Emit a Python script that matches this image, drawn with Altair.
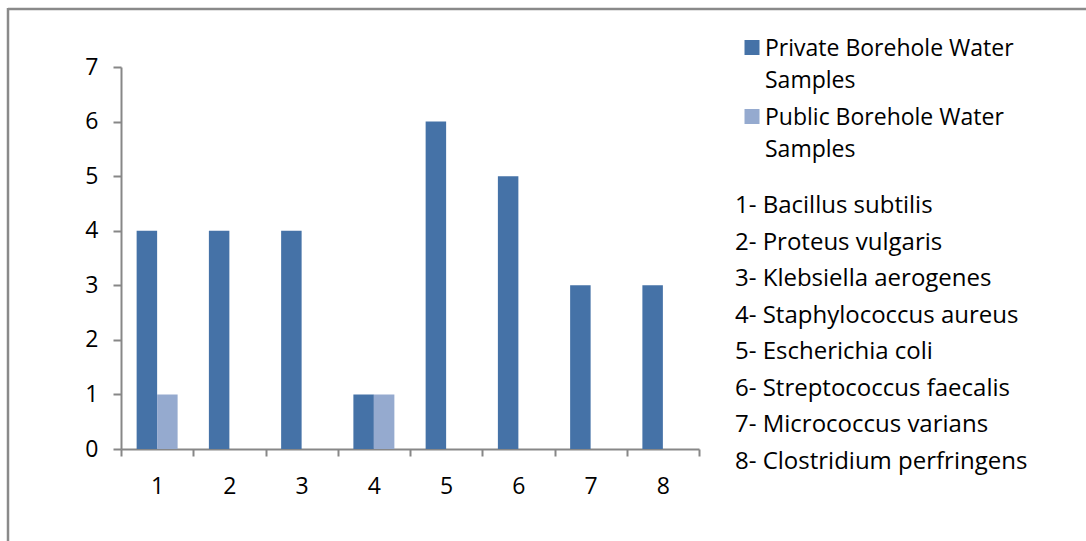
import altair as alt
import pandas as pd

categories = ["1", "2", "3", "4", "5", "6", "7", "8"]
series_names = ["Private Borehole Water Samples", "Public Borehole Water Samples"]
private_vals = [4, 4, 4, 1, 6, 5, 3, 3]
public_vals = [1, 0, 0, 1, 0, 0, 0, 0]
species = [
    "1- Bacillus subtilis",
    "2- Proteus vulgaris",
    "3- Klebsiella aerogenes",
    "4- Staphylococcus aureus",
    "5- Escherichia coli",
    "6- Streptococcus faecalis",
    "7- Micrococcus varians",
    "8- Clostridium perfringens",
]
legend_lines = [["Private Borehole Water", "Samples"], ["Public Borehole Water", "Samples"]]
colors = ["#4572A7", "#95AACF"]

FONT = "Open Sans"
FS = 23
GRAY = "#878787"

rows = []
for c, pv, qv in zip(categories, private_vals, public_vals):
    rows.append({"cat": c, "series": series_names[0], "value": pv})
    rows.append({"cat": c, "series": series_names[1], "value": qv})
bars_df = pd.DataFrame(rows)

color = alt.Color("series:N", sort=series_names,
                  scale=alt.Scale(domain=series_names, range=colors), legend=None)

bars = alt.Chart(bars_df).mark_bar().encode(
    x=alt.X("cat:N", sort=categories,
            scale=alt.Scale(paddingInner=0, paddingOuter=0),
            axis=alt.Axis(title=None, labelAngle=0, tickBand="extent", tickSize=7,
                          tickColor=GRAY, domainColor=GRAY, domainWidth=2, tickWidth=2,
                          labelFont=FONT, labelFontSize=FS, labelColor="black",
                          labelPadding=19, labelBaseline="top")),
    xOffset=alt.XOffset("series:N", sort=series_names,
                        scale=alt.Scale(paddingInner=0, paddingOuter=0.763)),
    y=alt.Y("value:Q", stack=None, scale=alt.Scale(domain=[0, 7], nice=False),
            axis=alt.Axis(title=None, values=list(range(8)), grid=False, tickSize=8,
                          tickColor=GRAY, domainColor=GRAY, domainWidth=2, tickWidth=2,
                          labelFont=FONT, labelFontSize=FS, labelColor="black",
                          labelPadding=15)),
    color=color,
)

leg_df = pd.DataFrame({
    "series": series_names,
    "label": ["\n".join(l) for l in legend_lines],
})
leg_y = alt.Y("series:N", sort=series_names,
              scale=alt.Scale(type="point", domain=series_names, range=[-19.5, 49.5], padding=0),
              axis=None)
leg_sq = alt.Chart(leg_df).mark_square(size=225, opacity=1).encode(
    x=alt.value(631), y=leg_y, color=color)
leg_txt = alt.Chart(leg_df).mark_text(
    align="left", baseline="alphabetic", font=FONT, fontSize=FS, lineHeight=32,
    dy=8.5, color="black", lineBreak="\n").encode(
    x=alt.value(644), y=leg_y, text="label:N")

sp_df = pd.DataFrame({"name": species})
sp_txt = alt.Chart(sp_df).mark_text(
    align="left", baseline="alphabetic", font=FONT, fontSize=FS + 1, color="black").encode(
    x=alt.value(614),
    y=alt.Y("name:N", sort=species,
            scale=alt.Scale(type="point", domain=species, range=[146, 402], padding=0),
            axis=None),
    text="name:N")

frame_top = alt.Chart(pd.DataFrame({"a": [0]})).mark_rule(color="#8a8a8a", strokeWidth=2.5).encode(
    x=alt.value(-113), x2=alt.value(970), y=alt.value(-58))
frame_left = alt.Chart(pd.DataFrame({"a": [0]})).mark_rule(color="#8a8a8a", strokeWidth=2.5).encode(
    x=alt.value(-113), y=alt.value(-59), y2=alt.value(480))

chart = alt.layer(frame_top, frame_left, bars, leg_sq, leg_txt, sp_txt).resolve_scale(
    y="independent"
).properties(
    width=578, height=382,
    autosize=alt.AutoSizeParams(type="none"),
    padding={"left": 121, "top": 67, "right": 387, "bottom": 92},
    background="white",
).configure_view(stroke=None)

chart.save("out.html", embed_options={"renderer": "svg", "actions": False})
